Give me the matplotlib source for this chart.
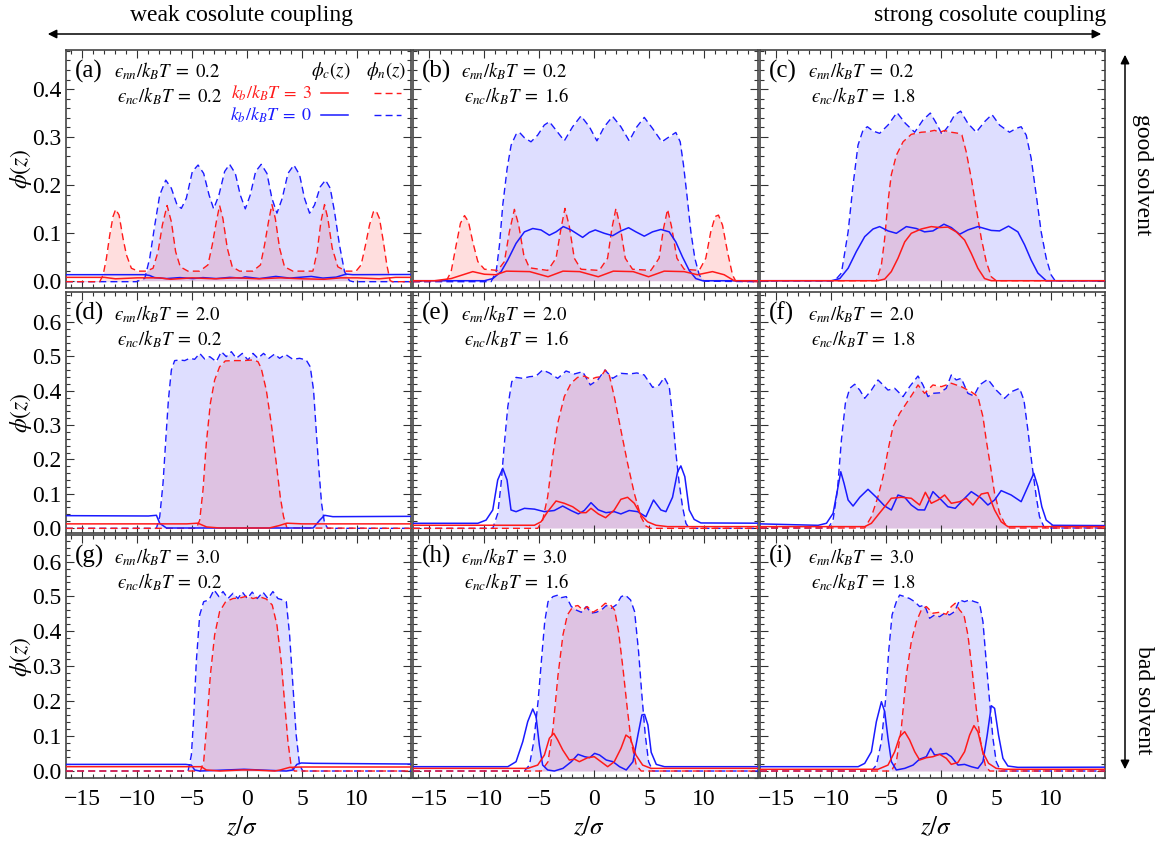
import matplotlib.pyplot as plt
import numpy as np
from matplotlib.patches import FancyArrowPatch
from matplotlib.ticker import MultipleLocator, FormatStrFormatter

plt.rcParams["font.family"] = ["Liberation Serif", "DejaVu Serif"]
plt.rcParams["mathtext.fontset"] = "stix"

# profiles: (z/sigma, phi)
# n3/c3: phi_n, phi_c for k_b/k_BT = 3 ; n0/c0: same for k_b/k_BT = 0
a_n0 = [(-16.5, -0.002), (-10.09, -0.002), (-9.33, 0.005), (-8.88, 0.047), (-8.42, 0.116), (-7.97, 0.179),
        (-7.42, 0.210), (-6.91, 0.193), (-6.39, 0.158), (-6.0, 0.151), (-5.55, 0.172), (-5.0, 0.228),
        (-4.48, 0.2415), (-3.97, 0.224), (-3.48, 0.179), (-3.06, 0.150), (-2.58, 0.179), (-2.06, 0.228),
        (-1.61, 0.243), (-1.09, 0.224), (-0.64, 0.179), (-0.18, 0.150), (0.27, 0.179), (0.76, 0.228),
        (1.27, 0.243), (1.79, 0.224), (2.24, 0.172), (2.7, 0.141), (3.18, 0.172), (3.7, 0.224),
        (4.24, 0.2415), (4.76, 0.221), (5.21, 0.172), (5.67, 0.141), (6.12, 0.158), (6.64, 0.196),
        (7.12, 0.210), (7.55, 0.193), (7.94, 0.144), (8.39, 0.0745), (8.85, 0.019), (9.3, 0.0),
        (9.61, -0.002), (14.9, -0.002)]
a_n3 = [(-16.5, -0.002), (-13.43, -0.002), (-13.12, 0.012), (-12.82, 0.047), (-12.52, 0.095), (-12.22, 0.134),
        (-11.98, 0.149), (-11.67, 0.137), (-11.31, 0.0885), (-11.0, 0.054), (-10.55, 0.026), (-9.94, 0.02),
        (-9.18, 0.02), (-8.58, 0.026), (-8.12, 0.0605), (-7.73, 0.116), (-7.3, 0.157), (-6.91, 0.123),
        (-6.52, 0.0605), (-6.1, 0.029), (-5.4, 0.02), (-4.34, 0.02), (-3.58, 0.033), (-3.19, 0.0745),
        (-2.82, 0.123), (-2.52, 0.157), (-2.22, 0.130), (-1.82, 0.068), (-1.37, 0.029), (-0.7, 0.02),
        (0.5, 0.02), (1.2, 0.033), (1.57, 0.0745), (1.93, 0.123), (2.24, 0.159), (2.55, 0.130),
        (2.94, 0.068), (3.39, 0.029), (4.15, 0.02), (5.97, 0.02), (6.36, 0.0605), (6.7, 0.123),
        (7.03, 0.159), (7.33, 0.130), (7.73, 0.068), (8.24, 0.029), (9.0, 0.02), (9.9, 0.02),
        (10.36, 0.033), (10.76, 0.0745), (11.12, 0.116), (11.48, 0.144), (11.73, 0.146), (12.03, 0.130),
        (12.39, 0.081), (12.7, 0.033), (13.0, 0.0), (13.24, -0.002), (14.9, -0.002)]
a_c3 = [(-16.5, 0.007), (-13.0, 0.007), (-12.0, 0.004), (-10.0, 0.006), (-8.0, 0.006), (-7.0, 0.003),
        (-5.0, 0.006), (-3.0, 0.004), (-1.0, 0.006), (1.0, 0.004), (3.0, 0.006), (5.0, 0.004),
        (7.0, 0.003), (8.5, 0.006), (10.0, 0.006), (12.0, 0.004), (13.5, 0.007), (14.9, 0.007)]
a_c0 = [(-16.5, 0.0126), (-9.34, 0.0126), (-8.9, 0.011), (-8.43, 0.0065), (-7.34, 0.0045), (-6.15, 0.0065),
        (-4.94, 0.0045), (-4.03, 0.0065), (-2.82, 0.0045), (-1.6, 0.007), (-0.55, 0.0055), (-0.2, 0.008),
        (1.12, 0.0045), (2.6, 0.009), (3.85, 0.0055), (5.82, 0.009), (6.88, 0.0055), (8.09, 0.0075),
        (9.0, 0.0138), (9.6, 0.0126), (14.9, 0.013)]

b_n0 = [(-16.5, -0.002), (-9.39, -0.002), (-8.93, 0.019), (-8.63, 0.0745), (-8.33, 0.158), (-7.93, 0.2345),
        (-7.57, 0.283), (-7.12, 0.3055), (-6.82, 0.310), (-6.36, 0.2985), (-5.76, 0.290), (-5.15, 0.304),
        (-4.55, 0.325), (-4.09, 0.332), (-3.49, 0.3146), (-2.73, 0.292), (-1.97, 0.3215), (-1.21, 0.344),
        (-0.45, 0.3215), (0.24, 0.292), (0.91, 0.3215), (1.67, 0.343), (2.42, 0.3215), (3.18, 0.292),
        (3.88, 0.3215), (4.55, 0.341), (5.3, 0.318), (6.15, 0.290), (6.82, 0.3005), (7.42, 0.3095),
        (7.82, 0.290), (8.12, 0.2415), (8.43, 0.179), (8.79, 0.102), (9.15, 0.047), (9.55, 0.012),
        (10.0, -0.001), (14.9, -0.002)]
b_n3 = [(-16.5, -0.002), (-13.48, -0.001), (-13.03, 0.019), (-12.57, 0.0745), (-12.18, 0.12), (-11.81, 0.136),
        (-11.45, 0.123), (-11.06, 0.081), (-10.6, 0.040), (-10.0, 0.024), (-8.79, 0.0215), (-8.18, 0.040),
        (-7.73, 0.102), (-7.27, 0.149), (-6.88, 0.116), (-6.42, 0.054), (-5.91, 0.027), (-4.24, 0.0215),
        (-3.48, 0.047), (-3.03, 0.109), (-2.67, 0.151), (-2.27, 0.113), (-1.82, 0.047), (-1.21, 0.024),
        (0.45, 0.0215), (1.21, 0.047), (1.6, 0.109), (1.97, 0.151), (2.36, 0.113), (2.82, 0.047),
        (3.48, 0.024), (5.15, 0.0215), (5.9, 0.047), (6.3, 0.109), (6.67, 0.149), (7.03, 0.113),
        (7.52, 0.047), (8.18, 0.024), (9.55, 0.0215), (10.15, 0.047), (10.6, 0.102), (11.0, 0.134),
        (11.3, 0.137), (11.67, 0.116), (12.12, 0.0605), (12.58, 0.012), (12.88, -0.001), (14.9, -0.002)]
b_c3 = [(-16.5, 0.0), (-14.54, 0.0), (-13.03, 0.0045), (-11.06, 0.019), (-10.0, 0.0135), (-8.94, 0.0125),
        (-8.0, 0.02), (-5.88, 0.019), (-4.21, 0.0083), (-2.85, 0.02), (-1.33, 0.019), (0.36, 0.0083),
        (1.73, 0.02), (3.54, 0.019), (4.94, 0.0083), (6.36, 0.02), (8.18, 0.019), (9.39, 0.0125),
        (10.76, 0.019), (11.82, 0.0125), (12.73, 0.0), (14.9, 0.0)]
b_c0 = [(-16.5, 0.0), (-10.0, 0.0), (-9.24, 0.0045), (-8.48, 0.019), (-7.88, 0.043), (-7.12, 0.078),
        (-6.36, 0.102), (-5.6, 0.109), (-4.85, 0.106), (-4.09, 0.095), (-3.48, 0.102), (-2.82, 0.113),
        (-2.12, 0.106), (-1.06, 0.0905), (-0.45, 0.101), (0.09, 0.106), (0.91, 0.099), (1.67, 0.094),
        (2.42, 0.104), (3.12, 0.1107), (3.79, 0.102), (4.55, 0.093), (5.3, 0.102), (6.06, 0.107),
        (6.82, 0.102), (7.42, 0.081), (8.03, 0.0495), (8.64, 0.0215), (9.24, 0.0045), (9.85, 0.0),
        (14.9, 0.0)]

c_n0 = [(-16.5, 0.0), (-9.7, 0.0), (-9.09, 0.016), (-8.48, 0.102), (-8.03, 0.2), (-7.58, 0.283),
        (-7.12, 0.3146), (-6.73, 0.3215), (-6.21, 0.3125), (-5.61, 0.3077), (-4.85, 0.325), (-4.03, 0.351),
        (-3.27, 0.3286), (-2.42, 0.310), (-1.67, 0.3355), (-1.0, 0.350), (-0.36, 0.325), (0.06, 0.3056),
        (0.6, 0.3215), (1.21, 0.346), (1.76, 0.354), (2.42, 0.3286), (3.18, 0.310), (3.94, 0.332),
        (4.61, 0.347), (5.3, 0.325), (6.21, 0.310), (6.82, 0.318), (7.27, 0.3215), (7.73, 0.304),
        (8.18, 0.2555), (8.64, 0.179), (9.09, 0.102), (9.55, 0.047), (10.0, 0.012), (10.36, 0.0),
        (14.9, 0.0)]
c_n3 = [(-16.5, 0.0), (-5.91, 0.0), (-5.45, 0.033), (-5.15, 0.0885), (-4.85, 0.165), (-4.55, 0.221),
        (-4.09, 0.262), (-3.48, 0.290), (-2.73, 0.3056), (-1.82, 0.310), (-1.21, 0.311), (-0.61, 0.314),
        (-0.15, 0.310), (0.3, 0.3136), (0.91, 0.310), (1.58, 0.3077), (1.88, 0.304), (2.27, 0.269),
        (2.73, 0.2137), (3.18, 0.151), (3.64, 0.0885), (4.09, 0.04), (4.55, 0.0083), (5.0, 0.0),
        (14.9, 0.0)]
c_c3 = [(-16.5, 0.0), (-5.76, 0.0), (-5.15, 0.0035), (-4.55, 0.019), (-3.94, 0.047), (-3.33, 0.081),
        (-2.73, 0.099), (-1.82, 0.108), (-0.91, 0.113), (-0.15, 0.111), (0.6, 0.112), (1.36, 0.102),
        (2.12, 0.085), (2.73, 0.057), (3.33, 0.026), (3.94, 0.0045), (4.55, 0.0), (14.9, 0.0)]
c_c0 = [(-16.5, 0.0), (-10.0, 0.0), (-9.24, 0.0045), (-8.48, 0.026), (-7.73, 0.061), (-6.97, 0.092),
        (-6.21, 0.108), (-5.61, 0.113), (-4.85, 0.104), (-4.09, 0.099), (-3.18, 0.113), (-2.27, 0.109),
        (-1.52, 0.102), (-0.76, 0.104), (0.24, 0.118), (0.91, 0.111), (1.67, 0.097), (2.42, 0.106),
        (3.33, 0.113), (4.55, 0.105), (5.3, 0.104), (6.12, 0.114), (6.97, 0.102), (7.58, 0.075),
        (8.18, 0.043), (8.79, 0.016), (9.55, 0.0), (14.9, 0.0)]

d_n0 = [(-16.5, -0.001), (-8.27, -0.001), (-7.97, 0.033), (-7.67, 0.130), (-7.42, 0.2566), (-7.18, 0.373),
        (-6.91, 0.4606), (-6.61, 0.488), (-6.15, 0.4898), (-5.7, 0.488), (-5.24, 0.4947), (-4.79, 0.4917),
        (-4.33, 0.509), (-3.88, 0.4927), (-3.42, 0.4995), (-2.82, 0.485), (-2.36, 0.514), (-1.91, 0.4995),
        (-1.45, 0.514), (-1.0, 0.4947), (-0.45, 0.509), (0.06, 0.4898), (0.52, 0.509), (0.97, 0.4947),
        (1.48, 0.509), (1.97, 0.4947), (2.48, 0.507), (2.94, 0.4947), (3.49, 0.506), (4.15, 0.4917),
        (4.76, 0.4947), (5.36, 0.4898), (5.73, 0.470), (6.03, 0.402), (6.27, 0.2857), (6.52, 0.169),
        (6.76, 0.072), (7.03, 0.0137), (7.33, -0.001), (14.9, -0.001)]
d_n3 = [(-16.5, -0.001), (-4.64, -0.001), (-4.33, 0.023), (-4.03, 0.111), (-3.73, 0.247), (-3.36, 0.3635),
        (-2.97, 0.4315), (-2.52, 0.470), (-2.0, 0.487), (-1.3, 0.488), (-0.39, 0.488), (0.52, 0.4898),
        (0.97, 0.485), (1.27, 0.4655), (1.73, 0.402), (2.18, 0.305), (2.64, 0.1886), (3.0, 0.091),
        (3.3, 0.033), (3.61, 0.0), (14.9, -0.001)]
d_c3 = [(-16.5, 0.012), (-5.5, 0.012), (-4.5, 0.014), (-3.7, 0.003), (-2.5, 0.0), (2.0, 0.0),
        (2.9, 0.007), (3.6, 0.014), (5.0, 0.012), (14.9, 0.012)]
d_c0 = [(-16.5, 0.036), (-9.0, 0.035), (-8.27, 0.037), (-7.97, 0.0136), (-7.36, 0.0), (6.0, 0.0),
        (6.6, 0.023), (7.03, 0.037), (7.79, 0.033), (14.9, 0.034)]

e_n0 = [(-16.5, -0.001), (-9.24, -0.001), (-8.78, 0.043), (-8.48, 0.130), (-8.18, 0.247), (-7.87, 0.3537),
        (-7.51, 0.4266), (-7.12, 0.439), (-6.51, 0.4363), (-5.9, 0.441), (-5.3, 0.443), (-4.7, 0.4606),
        (-4.09, 0.452), (-3.33, 0.4363), (-2.57, 0.4577), (-1.81, 0.449), (-1.06, 0.4557), (-0.36, 0.417),
        (0.31, 0.4315), (0.97, 0.4606), (1.67, 0.4363), (2.43, 0.4509), (3.19, 0.449), (3.88, 0.452),
        (4.55, 0.446), (5.31, 0.410), (5.91, 0.417), (6.37, 0.439), (6.82, 0.412), (7.13, 0.3245),
        (7.43, 0.2177), (7.73, 0.130), (8.03, 0.062), (8.34, 0.0137), (8.64, -0.001), (14.9, -0.001)]
e_n3 = [(-16.5, -0.001), (-5.15, -0.001), (-4.7, 0.023), (-4.24, 0.0915), (-3.79, 0.208), (-3.33, 0.305),
        (-2.73, 0.383), (-2.12, 0.422), (-1.52, 0.439), (-0.91, 0.443), (-0.3, 0.4335), (0.15, 0.439),
        (0.6, 0.441), (1.0, 0.4606), (1.36, 0.446), (1.82, 0.383), (2.42, 0.2857), (3.03, 0.1886),
        (3.64, 0.101), (4.24, 0.033), (4.7, 0.0058), (5.15, -0.001), (14.9, -0.001)]
e_c3 = [(-16.5, 0.008), (-5.45, 0.008), (-4.85, 0.018), (-4.24, 0.0476), (-3.48, 0.0787), (-2.73, 0.072),
        (-1.97, 0.062), (-1.21, 0.0447), (-0.75, 0.0447), (-0.3, 0.0573), (0.36, 0.041), (1.03, 0.030),
        (1.82, 0.0525), (2.42, 0.0836), (3.03, 0.0895), (3.64, 0.072), (4.24, 0.038), (4.85, 0.018),
        (5.61, 0.008), (6.67, 0.004), (14.9, 0.004)]
e_c0 = [(-16.5, 0.0137), (-10.6, 0.0137), (-9.85, 0.023), (-9.24, 0.0525), (-8.79, 0.14), (-8.33, 0.174),
        (-7.94, 0.14), (-7.58, 0.0525), (-7.12, 0.0476), (-6.36, 0.0573), (-5.45, 0.055), (-4.55, 0.0476),
        (-3.64, 0.051), (-2.88, 0.064), (-2.12, 0.051), (-1.45, 0.041), (-0.91, 0.051), (-0.3, 0.0738),
        (0.36, 0.053), (1.06, 0.0447), (1.82, 0.0476), (2.42, 0.041), (3.18, 0.051), (3.94, 0.0476),
        (4.7, 0.033), (5.39, 0.0816), (6.06, 0.0525), (6.52, 0.0476), (7.12, 0.0895), (7.58, 0.164),
        (7.88, 0.181), (8.24, 0.1496), (8.64, 0.0525), (9.09, 0.025), (9.7, 0.0147), (14.9, 0.014)]

f_n0 = [(-16.5, 0.0), (-10.3, 0.0), (-9.85, 0.023), (-9.45, 0.111), (-9.09, 0.2566), (-8.73, 0.3635),
        (-8.33, 0.4072), (-7.88, 0.419), (-7.42, 0.402), (-6.97, 0.378), (-6.36, 0.402), (-5.76, 0.4315),
        (-5.3, 0.417), (-4.85, 0.402), (-4.24, 0.4072), (-3.48, 0.383), (-2.88, 0.412), (-2.12, 0.443),
        (-1.67, 0.417), (-1.21, 0.383), (-0.76, 0.3926), (-0.15, 0.394), (0.45, 0.4072), (0.91, 0.446),
        (1.36, 0.4315), (1.82, 0.4363), (2.42, 0.3926), (2.97, 0.385), (3.48, 0.417), (4.24, 0.4335),
        (5.0, 0.402), (5.76, 0.378), (6.36, 0.397), (7.12, 0.4072), (7.52, 0.373), (7.88, 0.2857),
        (8.24, 0.1886), (8.64, 0.0915), (8.94, 0.033), (9.33, 0.0039), (9.7, 0.0), (14.9, 0.0)]
f_n3 = [(-16.5, 0.0), (-6.97, 0.0), (-6.36, 0.033), (-5.76, 0.0915), (-5.3, 0.1496), (-4.85, 0.227),
        (-4.39, 0.2955), (-3.79, 0.334), (-3.18, 0.3635), (-2.58, 0.3926), (-2.12, 0.417), (-1.52, 0.3926),
        (-0.76, 0.417), (0.0, 0.412), (0.91, 0.422), (1.82, 0.412), (2.73, 0.397), (3.33, 0.383),
        (3.79, 0.3245), (4.09, 0.2566), (4.48, 0.179), (4.85, 0.101), (5.3, 0.0437), (5.76, 0.0137),
        (6.21, 0.0), (14.9, 0.0)]
f_c3 = [(-16.5, 0.004), (-6.97, 0.004), (-6.36, 0.0137), (-5.76, 0.038), (-5.15, 0.062), (-4.55, 0.0866),
        (-3.64, 0.0895), (-2.73, 0.0866), (-1.97, 0.067), (-1.45, 0.104), (-0.91, 0.072), (-0.3, 0.0816),
        (0.3, 0.0962), (0.91, 0.072), (1.67, 0.0767), (2.27, 0.0866), (2.88, 0.067), (3.64, 0.099),
        (4.24, 0.103), (4.85, 0.0525), (5.45, 0.018), (6.06, 0.004), (14.9, 0.004)]
f_c0 = [(-16.5, 0.012), (-11.21, 0.0078), (-10.45, 0.0137), (-9.85, 0.0427), (-9.45, 0.111), (-9.15, 0.164),
        (-8.85, 0.130), (-8.48, 0.0816), (-8.03, 0.064), (-7.42, 0.0895), (-6.67, 0.1128), (-5.91, 0.0895),
        (-5.15, 0.064), (-4.55, 0.0525), (-3.94, 0.0962), (-3.33, 0.0895), (-2.73, 0.067), (-2.12, 0.053),
        (-1.52, 0.0525), (-0.76, 0.106), (-0.15, 0.0866), (0.6, 0.062), (1.27, 0.0573), (1.97, 0.0816),
        (2.73, 0.106), (3.64, 0.0866), (4.24, 0.067), (4.85, 0.0816), (5.45, 0.109), (6.36, 0.0962),
        (7.27, 0.0767), (7.88, 0.1206), (8.42, 0.1594), (8.79, 0.1206), (9.15, 0.062), (9.55, 0.023),
        (10.15, 0.0078), (14.9, 0.007)]

g_n0 = [(-16.5, 0.0), (-5.39, 0.0), (-5.09, 0.0458), (-4.88, 0.151), (-4.64, 0.313), (-4.33, 0.447),
        (-3.97, 0.485), (-3.49, 0.490), (-3.03, 0.519), (-2.58, 0.4995), (-2.21, 0.514), (-1.76, 0.494),
        (-1.3, 0.509), (-0.85, 0.494), (-0.45, 0.5125), (0.0, 0.494), (0.45, 0.5125), (0.91, 0.494),
        (1.42, 0.5125), (1.88, 0.494), (2.33, 0.514), (2.79, 0.494), (3.24, 0.490), (3.55, 0.485),
        (3.85, 0.39), (4.15, 0.246), (4.45, 0.103), (4.76, 0.017), (5.06, 0.0), (14.9, 0.0)]
g_n3 = [(-16.5, 0.0), (-4.27, 0.0), (-3.97, 0.0267), (-3.67, 0.141), (-3.36, 0.275), (-2.97, 0.39),
        (-2.52, 0.4565), (-1.97, 0.485), (-1.3, 0.494), (-0.55, 0.4966), (0.0, 0.501), (0.52, 0.494),
        (1.12, 0.499), (1.73, 0.4926), (2.27, 0.4756), (2.7, 0.418), (3.09, 0.313), (3.39, 0.1986),
        (3.7, 0.084), (4.0, 0.0124), (4.3, 0.0), (14.9, 0.0)]
g_c3 = [(-16.5, 0.0124), (-4.6, 0.0124), (-4.18, 0.0124), (-3.73, 0.003), (-2.5, 0.0), (-0.5, 0.003),
        (0.5, 0.003), (2.5, 0.0), (3.0, 0.003), (3.85, 0.0105), (5.0, 0.0115), (14.9, 0.0115)]
g_c0 = [(-16.5, 0.019), (-5.61, 0.019), (-5.09, 0.017), (-4.79, 0.003), (-4.33, 0.0), (-0.3, 0.005),
        (1.12, 0.003), (3.55, 0.0), (4.15, 0.003), (4.51, 0.019), (4.91, 0.023), (6.0, 0.022),
        (14.9, 0.02)]

h_n0 = [(-16.5, 0.0), (-6.36, 0.0), (-5.9, 0.017), (-5.51, 0.084), (-5.12, 0.1986), (-4.82, 0.313),
        (-4.51, 0.428), (-4.21, 0.485), (-3.76, 0.4995), (-3.3, 0.504), (-3.0, 0.4966), (-2.55, 0.4995),
        (-2.09, 0.471), (-1.64, 0.461), (-1.18, 0.4547), (-0.73, 0.471), (-0.27, 0.452), (0.18, 0.4547),
        (0.64, 0.461), (1.09, 0.474), (1.55, 0.466), (2.0, 0.476), (2.45, 0.4995), (2.82, 0.504),
        (3.3, 0.490), (3.67, 0.4565), (4.03, 0.342), (4.33, 0.218), (4.64, 0.103), (4.94, 0.0267),
        (5.33, 0.0), (14.9, 0.0)]
h_n3 = [(-16.5, 0.0), (-4.82, 0.0), (-4.21, 0.0267), (-3.76, 0.122), (-3.3, 0.275), (-2.85, 0.39),
        (-2.45, 0.447), (-1.94, 0.471), (-1.49, 0.474), (-1.03, 0.461), (-0.64, 0.471), (-0.12, 0.4547),
        (0.48, 0.466), (1.0, 0.4805), (1.48, 0.4756), (1.85, 0.461), (2.21, 0.399), (2.61, 0.294),
        (3.0, 0.1796), (3.36, 0.084), (3.82, 0.017), (4.27, 0.0), (14.9, 0.0)]
h_c3 = [(-16.5, 0.0076), (-6.06, 0.0076), (-5.15, 0.017), (-4.54, 0.0458), (-4.09, 0.0936), (-3.69, 0.108),
        (-3.33, 0.0888), (-2.87, 0.0602), (-2.27, 0.0315), (-1.81, 0.034), (-1.36, 0.0267), (-0.6, 0.0382),
        (0.0, 0.041), (0.61, 0.0267), (1.22, 0.0124), (1.82, 0.0267), (2.43, 0.065), (2.88, 0.103),
        (3.28, 0.0936), (3.79, 0.0458), (4.4, 0.017), (5.16, 0.0076), (14.9, 0.0076)]
h_c0 = [(-16.5, 0.0124), (-7.87, 0.0124), (-7.12, 0.0267), (-6.51, 0.084), (-6.06, 0.1413), (-5.6, 0.1777),
        (-5.3, 0.1556), (-5.0, 0.0745), (-4.7, 0.017), (-4.24, 0.003), (-3.64, 0.0), (-2.85, 0.0076),
        (-2.09, 0.0267), (-1.48, 0.0478), (-0.88, 0.041), (-0.42, 0.0382), (0.03, 0.0506), (0.48, 0.0458),
        (1.09, 0.0315), (1.7, 0.0267), (2.3, 0.0124), (2.91, 0.003), (3.52, 0.0267), (3.97, 0.103),
        (4.33, 0.1605), (4.58, 0.162), (4.88, 0.1318), (5.18, 0.0535), (5.64, 0.019), (6.39, 0.0124),
        (14.9, 0.0124)]

i_n0 = [(-16.5, 0.0), (-6.36, 0.0), (-5.91, 0.017), (-5.45, 0.084), (-5.09, 0.1986), (-4.79, 0.342),
        (-4.48, 0.447), (-4.09, 0.485), (-3.79, 0.504), (-3.33, 0.4995), (-2.88, 0.494), (-2.42, 0.485),
        (-1.97, 0.471), (-1.52, 0.4756), (-1.06, 0.4375), (-0.61, 0.447), (-0.15, 0.442), (0.3, 0.452),
        (0.76, 0.447), (1.21, 0.4565), (1.67, 0.49), (2.12, 0.485), (2.58, 0.49), (3.03, 0.485),
        (3.48, 0.4805), (3.79, 0.428), (4.09, 0.313), (4.4, 0.1986), (4.7, 0.0936), (5.0, 0.0267),
        (5.4, 0.0), (14.9, 0.0)]
i_n3 = [(-16.5, 0.0), (-4.54, 0.0), (-4.09, 0.0267), (-3.64, 0.122), (-3.18, 0.275), (-2.73, 0.3705),
        (-2.27, 0.428), (-1.82, 0.461), (-1.36, 0.471), (-0.76, 0.452), (-0.15, 0.4547), (0.46, 0.449),
        (0.91, 0.471), (1.27, 0.4805), (1.67, 0.461), (2.06, 0.447), (2.42, 0.39), (2.79, 0.294),
        (3.18, 0.1796), (3.58, 0.084), (4.0, 0.017), (4.4, 0.0), (14.9, 0.0)]
i_c3 = [(-16.5, 0.005), (-5.76, 0.005), (-4.85, 0.017), (-4.24, 0.0553), (-3.79, 0.0983), (-3.33, 0.1126),
        (-2.88, 0.0888), (-2.42, 0.0553), (-1.97, 0.0315), (-1.36, 0.0382), (-0.76, 0.041), (-0.15, 0.0478),
        (0.46, 0.0363), (0.91, 0.019), (1.52, 0.0248), (2.12, 0.0553), (2.58, 0.103), (2.97, 0.13),
        (3.33, 0.1126), (3.79, 0.0535), (4.3, 0.022), (5.0, 0.0076), (5.76, 0.005), (14.9, 0.005)]
i_c0 = [(-16.5, 0.0124), (-7.57, 0.0124), (-6.97, 0.0219), (-6.36, 0.0553), (-5.91, 0.1413), (-5.45, 0.1986),
        (-5.15, 0.17), (-4.85, 0.0936), (-4.54, 0.0267), (-4.09, 0.003), (-3.33, 0.0076), (-2.57, 0.017),
        (-1.97, 0.034), (-1.36, 0.041), (-0.97, 0.065), (-0.61, 0.0458), (-0.15, 0.0478), (0.46, 0.0506),
        (0.91, 0.041), (1.52, 0.017), (2.12, 0.019), (2.73, 0.0124), (3.33, 0.0076), (3.79, 0.0267),
        (4.18, 0.103), (4.55, 0.187), (4.85, 0.1796), (5.21, 0.103), (5.61, 0.0363), (6.06, 0.0143),
        (6.97, 0.0105), (14.9, 0.011)]

PANEL_TAGS = ["(a)", "(b)", "(c)", "(d)", "(e)", "(f)", "(g)", "(h)", "(i)"]
EPS_NN = ["0.2", "0.2", "0.2", "2.0", "2.0", "2.0", "3.0", "3.0", "3.0"]
EPS_NC = ["0.2", "1.6", "1.8", "0.2", "1.6", "1.8", "0.2", "1.6", "1.8"]
PROFILES = [
    (a_n3, a_c3, a_n0, a_c0), (b_n3, b_c3, b_n0, b_c0), (c_n3, c_c3, c_n0, c_c0),
    (d_n3, d_c3, d_n0, d_c0), (e_n3, e_c3, e_n0, e_c0), (f_n3, f_c3, f_n0, f_c0),
    (g_n3, g_c3, g_n0, g_c0), (h_n3, h_c3, h_n0, h_c0), (i_n3, i_c3, i_n0, i_c0),
]
ROW_YLIM = [(-0.0152, 0.4817), (-0.0146, 0.688), (-0.02, 0.676)]
ROW_YMAX_TICK = [0.4, 0.6, 0.6]
XLIM = (-16.5, 14.9)

RED = "#ff1a1a"
BLUE = "#1a1aff"
W, H = 1156, 842
COL_LEFT = [66, 413, 760]
COL_W = 345
ROW_TOP = [50, 292, 535]
ROW_BOT = [288, 533, 778]
ANN = 13.5


def draw_panel(ax, n3, c3, n0, c0):
    for curve, color in ((n3, RED), (n0, BLUE)):
        z, phi = np.array(curve).T
        ax.fill_between(z, 0, phi, color=color, alpha=0.14, lw=0, zorder=1)
    for curve, color in ((n0, BLUE), (n3, RED)):
        z, phi = np.array(curve).T
        ax.plot(z, phi, color=color, lw=1.0, dashes=(5, 3), zorder=3)
    for curve, color in ((c0, BLUE), (c3, RED)):
        z, phi = np.array(curve).T
        ax.plot(z, phi, color=color, lw=1.1, zorder=4)


def main():
    fig = plt.figure(figsize=(W / 100, H / 100), dpi=100)
    for k in range(9):
        r, c = divmod(k, 3)
        ax = fig.add_axes([COL_LEFT[c] / W, 1 - ROW_BOT[r] / H,
                           COL_W / W, (ROW_BOT[r] - ROW_TOP[r]) / H])
        draw_panel(ax, *PROFILES[k])
        ax.set_xlim(*XLIM)
        ax.set_ylim(*ROW_YLIM[r])
        ax.set_yticks(np.arange(0, ROW_YMAX_TICK[r] + 0.01, 0.1))
        ax.yaxis.set_major_formatter(FormatStrFormatter("%.1f"))
        ax.yaxis.set_minor_locator(MultipleLocator(0.02))
        ax.set_xticks([-15, -10, -5, 0, 5, 10])
        ax.xaxis.set_minor_locator(MultipleLocator(1))
        ax.tick_params(which="both", direction="in", top=True, right=True,
                       labelsize=17, width=0.8, color="#333333")
        ax.tick_params(axis="y", pad=3)
        ax.tick_params(axis="x", pad=8)
        ax.tick_params(which="major", length=6)
        ax.tick_params(which="minor", length=3)
        if c > 0:
            ax.tick_params(labelleft=False)
        if r < 2:
            ax.tick_params(labelbottom=False)
        for sp in ax.spines.values():
            sp.set_color("#444444")
            sp.set_linewidth(1.2)

        ax.text(0.027, 0.91, PANEL_TAGS[k], transform=ax.transAxes, fontsize=18, va="center")
        ax.text(0.14, 0.91, r"$ϵ_{nn}/k_BT\;=\;%s$" % EPS_NN[k], transform=ax.transAxes,
                fontsize=ANN, va="center")
        ax.text(0.148, 0.805, r"$ϵ_{nc}/k_BT\;=\;%s$" % EPS_NC[k], transform=ax.transAxes,
                fontsize=ANN, va="center")

        if k == 0:
            ax.text(0.767, 0.91, r"$\phi_c(z)$", transform=ax.transAxes, fontsize=ANN,
                    ha="center", va="center")
            ax.text(0.927, 0.91, r"$\phi_n(z)$", transform=ax.transAxes, fontsize=ANN,
                    ha="center", va="center")
            for yy, color, val in ((0.818, RED, "3"), (0.727, BLUE, "0")):
                ax.text(0.712, yy, r"$k_b/k_BT\;=\;%s$" % val, transform=ax.transAxes, fontsize=13,
                        color=color, ha="right", va="center")
                ax.plot([0.738, 0.816], [yy, yy], transform=ax.transAxes, color=color, lw=1.1)
                ax.plot([0.893, 0.971], [yy, yy], transform=ax.transAxes, color=color, lw=1.0,
                        dashes=(5, 3))

    for r in range(3):
        yc = 1 - (ROW_TOP[r] + ROW_BOT[r]) / 2 / H
        fig.text(21 / W, yc, r"$\phi(z)$", rotation=90, fontsize=17, ha="center", va="center")
    for c in range(3):
        fig.text((COL_LEFT[c] + COL_W / 2 + 4) / W, 1 - 828 / H, r"$z/\sigma$", fontsize=18,
                 ha="center", va="center")

    fig.text(242 / W, 1 - 16 / H, "weak cosolute coupling", fontsize=17, ha="center", va="center")
    fig.text(990 / W, 1 - 16 / H, "strong cosolute coupling", fontsize=17, ha="center", va="center")
    fig.add_artist(FancyArrowPatch(
        (45 / W, 1 - 34 / H), (1104 / W, 1 - 34 / H), transform=fig.transFigure,
        arrowstyle="<|-|>", mutation_scale=13, color="black", lw=1.1))
    fig.add_artist(FancyArrowPatch(
        (1125 / W, 1 - 52 / H), (1125 / W, 1 - 772 / H), transform=fig.transFigure,
        arrowstyle="<|-|>", mutation_scale=13, color="black", lw=1.1))
    fig.text(1143 / W, 1 - 175 / H, "good solvent", fontsize=17, rotation=270, ha="center", va="center")
    fig.text(1143 / W, 1 - 700 / H, "bad solvent", fontsize=17, rotation=270, ha="center", va="center")

    fig.savefig("out.png", dpi=100)


if __name__ == "__main__":
    main()
